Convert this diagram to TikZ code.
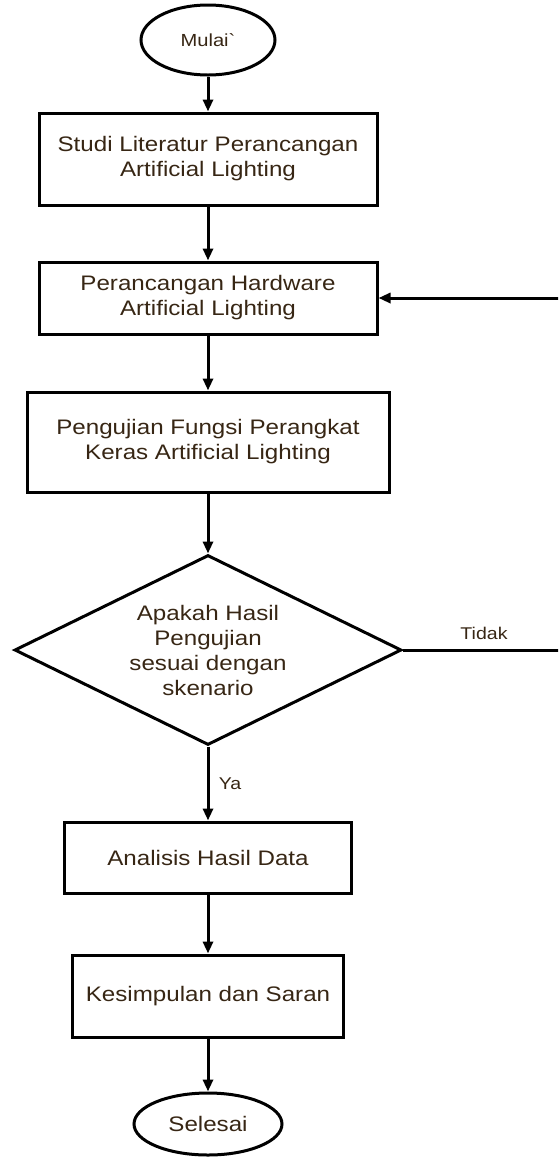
\documentclass[tikz,border=0pt]{standalone}
\usepackage{fontspec}
\setmainfont{Liberation Sans}[FakeStretch=1.15]
\newfontfamily\rawfont{Liberation Sans}[FakeStretch=1.15,Ligatures=TeXOff]
\usetikzlibrary{arrows.meta,positioning,shapes.geometric}
\definecolor{txtbrown}{RGB}{55,38,20}

\begin{document}
\begin{tikzpicture}[x=1pt,y=1pt,
  line width=3pt,
  box/.style={draw,align=center,inner sep=0pt,text=txtbrown,font=\fontsize{21}{25}\selectfont},
  term/.style={draw,ellipse,inner sep=0pt,text=txtbrown},
  dec/.style={draw,diamond,aspect=2.04,align=center,inner sep=0pt,text=txtbrown,font=\fontsize{21}{25}\selectfont},
  lbl/.style={text=txtbrown,font=\fontsize{17}{20}\selectfont},
  arr/.style={-{Triangle[length=12pt,width=10pt]}}
]
\useasboundingbox (0,0) rectangle (558,-1157);
\clip (0,0) rectangle (558,-1157);
\node[term,minimum width=134pt,minimum height=70pt,font=\rawfont\fontsize{17.5}{20}\selectfont] (mulai) at (208,-40) {Mulai`};
\node[box,minimum width=338pt,minimum height=92pt,below=35pt of mulai] (studi) {Studi Literatur Perancangan\\Artificial Lighting};
\node[box,minimum width=338pt,minimum height=72pt,below=54pt of studi] (hw) {Perancangan Hardware\\Artificial Lighting};
\node[box,minimum width=362pt,minimum height=100pt,below=55pt of hw] (uji) {Pengujian Fungsi Perangkat\\Keras Artificial Lighting};
\node[dec,minimum width=387pt,minimum height=190pt,below=60pt of uji] (cek) {Apakah Hasil\\Pengujian\\sesuai dengan\\skenario};
\node[box,minimum width=287pt,minimum height=71pt,below=74pt of cek] (analisis) {Analisis Hasil Data};
\node[box,minimum width=271pt,minimum height=82pt,below=59pt of analisis] (simpul) {Kesimpulan dan Saran};
\node[term,minimum width=148pt,minimum height=62pt,below=53pt of simpul,font=\fontsize{21}{25}\selectfont] (selesai) {Selesai};
\draw[arr] (mulai) -- (studi);
\draw[arr] (studi) -- (hw);
\draw[arr] (hw) -- (uji);
\draw[arr] (uji) -- (cek);
\draw[arr] (cek) -- node[lbl,right=6pt]{Ya} (analisis);
\draw[arr] (analisis) -- (simpul);
\draw[arr] (simpul) -- (selesai);
\draw[arr] (cek.east) -- node[lbl,above=6pt]{Tidak} ++(162,0) |- (hw.east);
\end{tikzpicture}
\end{document}
